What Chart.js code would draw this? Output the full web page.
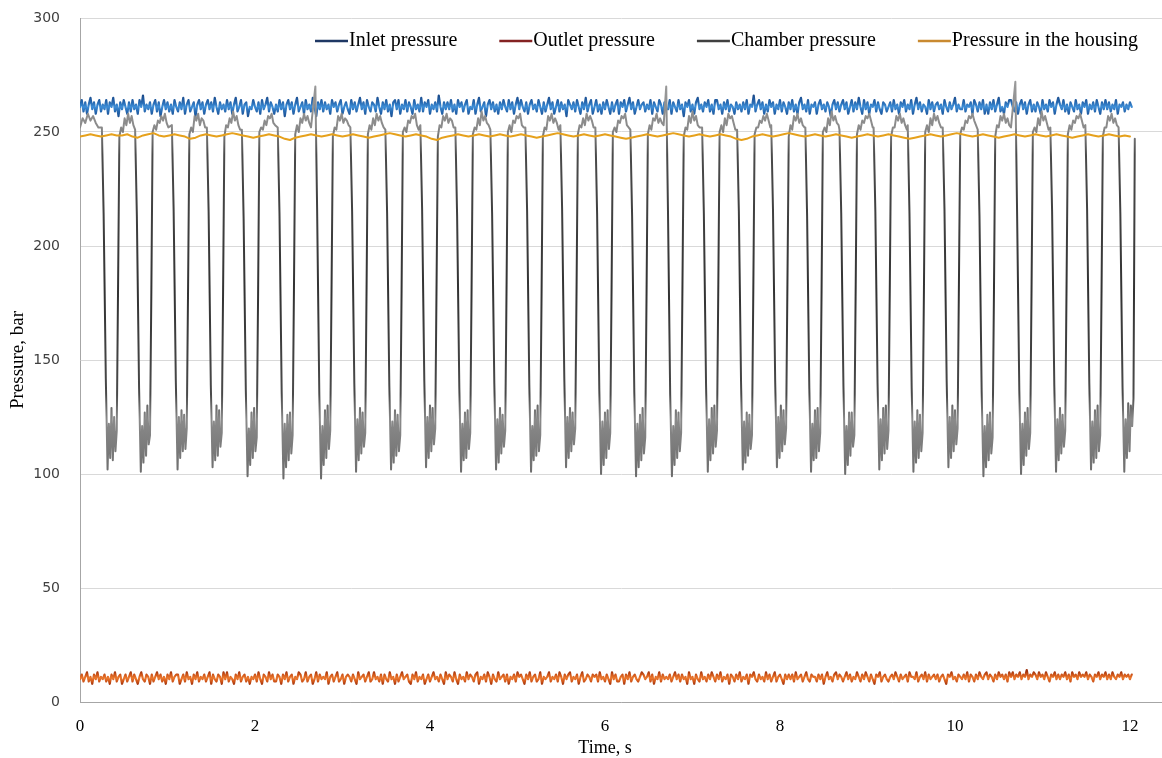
<!DOCTYPE html>
<html>
<head>
<meta charset="utf-8">
<title>Pressure, bar</title>
<script src="https://cdn.jsdelivr.net/npm/chart.js"></script>
<style>
  html, body { margin: 0; padding: 0; background: #fff; }
  canvas { display: block; }
</style>
</head>
<body>
<canvas id="pressureChart" width="1162" height="758"></canvas>
<script>
// series names and tick labels
const seriesNames = ["Inlet pressure", "Outlet pressure", "Chamber pressure", "Pressure in the housing"];
const xTicks = [0, 2, 4, 6, 8, 10, 12];
const yTicks = [0, 50, 100, 150, 200, 250, 300];

// inlet and outlet are logged every 0.02 s, housing every 0.06 s
const inletStep = 0.02;
const outletStep = 0.02;
const housingStep = 0.06;

const inletPressure = [
  261,264,259,263,258,262,265,260,263,258,262,264,259,262,
  260,264,258,263,261,265,259,262,257,263,260,264,261,258,
  263,259,264,260,262,258,264,261,266,259,262,260,263,258,
  262,264,259,263,257,261,264,260,263,259,262,258,264,261,
  259,263,260,265,258,262,264,259,261,263,257,262,264,260,
  263,258,262,264,260,263,259,265,261,258,263,260,262,259,
  264,260,263,258,262,265,259,261,264,258,262,263,257,261,
  260,264,261,259,263,258,264,260,262,265,259,263,261,258,
  262,259,264,260,263,257,262,264,260,263,258,262,265,259,
  261,263,258,264,260,262,259,265,261,257,263,260,264,259,
  263,260,262,258,264,261,263,259,262,264,258,261,263,260,
  258,264,260,263,259,262,265,260,263,258,264,261,259,263,
  262,259,265,261,258,263,260,264,259,262,257,263,264,260,
  264,258,262,260,264,259,263,261,258,264,260,262,259,265,
  259,263,261,264,258,262,260,263,259,266,261,258,263,260,
  263,260,264,259,262,258,264,261,263,259,262,264,258,261,
  260,264,258,262,265,259,261,263,257,262,264,260,263,259,
  262,258,263,260,264,261,259,264,260,263,258,262,265,260,
  264,261,259,263,258,262,264,260,262,259,264,261,258,263,
  259,262,265,260,263,258,261,264,259,263,260,262,257,264,
  262,260,263,259,264,261,258,263,260,265,259,262,264,258,
  261,264,259,262,258,263,260,264,261,258,263,259,262,264,
  258,263,261,264,259,262,265,260,263,258,261,264,260,262,
  263,259,262,260,264,258,263,261,259,264,262,258,263,260,
  260,264,258,263,261,259,264,260,262,257,263,261,264,259,
  262,258,263,265,260,262,259,263,261,264,259,262,258,264,
  264,260,262,258,263,260,264,259,262,261,258,263,260,262,
  259,263,260,264,258,262,261,266,259,262,264,260,263,258,
  262,259,264,261,263,258,262,260,264,259,263,261,258,263,
  260,264,259,262,258,263,265,260,262,259,264,258,262,261,
  263,258,262,264,260,262,259,263,261,257,262,264,260,263,
  259,262,264,260,263,258,261,264,259,263,260,265,261,258,
  264,260,263,258,262,261,264,259,263,260,258,263,262,259,
  261,263,259,264,260,262,258,263,261,264,259,262,260,264,
  258,262,265,260,263,259,262,261,258,264,260,263,259,262,
  263,260,262,258,264,261,259,263,260,262,265,259,262,260,
  260,264,259,262,261,263,258,264,262,259,263,260,264,258,
  262,258,263,260,264,259,262,265,259,261,258,263,261,264,
  264,261,259,263,258,262,264,260,263,258,262,264,259,262,
  259,263,261,258,264,260,262,259,264,261,263,258,262,265,
  262,260,264,259,262,258,263,261,259,264,260,262,258,263,
  261,264,258,262,260,263,259,264,261,258,263,260,264,260,
  263,259,262,260,264,258,262,261,263,259,262,260,263,261
];

const outletPressure = [
  10,12,9,11,13,9,11,8,12,10,13,9,11,10,
  12,9,11,8,12,10,13,9,11,12,8,10,12,9,
  11,13,9,12,10,8,11,13,10,9,12,11,8,12,
  9,11,13,10,12,9,11,8,12,10,13,9,11,12,
  12,8,10,12,9,13,10,11,8,12,10,13,9,11,
  10,12,9,11,13,8,12,10,9,12,11,8,13,10,
  13,9,11,10,8,12,10,13,9,11,12,9,11,8,
  11,10,12,9,13,10,8,12,11,9,13,10,12,9,
  9,12,11,8,12,10,13,9,11,12,8,11,10,13,
  12,9,10,13,9,11,12,8,10,13,9,12,10,11,
  10,13,8,11,12,9,11,13,9,10,12,8,11,12,
  11,9,12,10,8,13,10,11,12,9,11,13,9,10,
  13,10,11,9,12,8,12,10,9,13,10,11,8,12,
  9,11,13,10,11,12,9,8,12,10,13,9,11,10,
  12,8,10,12,9,11,13,10,11,9,12,10,8,13,
  10,12,11,9,13,10,8,12,10,11,9,13,10,12,
  11,9,12,13,8,11,10,12,9,13,11,8,12,10,
  9,13,10,11,12,9,12,8,11,10,12,9,13,11,
  12,10,8,12,10,13,9,11,12,9,10,13,8,11,
  10,11,13,9,11,10,12,9,13,11,8,12,10,12,
  13,9,11,10,12,8,11,13,9,10,12,11,9,12,
  11,12,9,13,10,11,9,12,10,8,13,10,12,9,
  9,11,12,8,12,10,13,9,11,12,10,9,11,13,
  12,10,11,13,9,12,8,11,10,13,9,12,10,11,
  10,12,9,11,13,10,12,9,12,10,11,8,13,10,
  11,8,12,10,9,13,10,11,9,12,10,13,11,9,
  12,10,13,9,11,10,12,8,12,11,9,12,10,13,
  9,11,10,12,8,12,11,13,10,9,12,10,11,9,
  13,10,12,9,11,13,9,11,12,10,8,12,10,12,
  10,12,9,13,10,11,12,9,11,13,10,9,12,11,
  11,9,12,10,12,8,11,13,10,11,9,12,13,10,
  12,11,9,11,13,10,12,9,11,10,13,11,9,12,
  10,13,11,9,12,10,8,12,11,13,9,11,12,10,
  9,11,12,10,13,11,9,12,10,11,12,9,13,11,
  11,10,13,9,11,12,10,13,9,12,10,11,12,10,
  12,9,11,12,10,8,12,11,13,10,11,9,12,11,
  10,12,10,13,9,12,11,9,12,10,13,11,10,12,
  13,10,12,11,9,12,10,13,11,12,10,12,9,13,
  11,13,10,12,11,13,10,12,11,14,10,12,11,13,
  12,10,13,11,12,10,13,11,9,12,11,13,10,12,
  10,12,11,13,10,12,9,13,11,12,10,13,11,12,
  11,13,10,12,11,9,12,11,13,10,12,11,13,10,
  12,10,13,11,10,12,11,13,10,12,11,12,10,12
];

const housingPressure = [
  248,248.5,249,248.5,248,248.5,249,248.5,248.5,249,248,247.5,248.5,
  249,249.5,248.5,248,248.5,249,248.5,248,247,247.5,248.5,249,248.5,
  248,248.5,249,249.5,249,248.5,248,247.5,248,248.5,249,248.5,248,
  247,246.5,247.5,248,248.5,249,248.5,248,248.5,249,248.5,248,248.5,
  249,248.5,248,247.5,248,248.5,249,249.5,249,248.5,248,248.5,249,
  248.5,248,247,246.5,247.5,248,248.5,249,248.5,248,248.5,249,248.5,
  248,248.5,249,248.5,248,248.5,249,248.5,248,247.5,248,248.5,249,
  249.5,249,248.5,248,248.5,249,248.5,248,248.5,249,248.5,248,247.5,
  247,247.5,248,248.5,249,248.5,248,248.5,249,249.5,249,248.5,248,
  248.5,249,248.5,248,248.5,249,248.5,248,247,246.5,247,248,248.5,
  249,248.5,248,248.5,249,249.5,249,248.5,248,248.5,249,248.5,248,
  248.5,249,248.5,248,247.5,248,248.5,249,248.5,248,248.5,249,248.5,
  248,247.5,247,247.5,248,248.5,249,248.5,248,248.5,249,249.5,249,
  248.5,248,248.5,249,248.5,248,247.5,248,248.5,249,248.5,248,248.5,
  249,248.5,248,248.5,249,248.5,248,247.5,248,248.5,249,248.5,248,248.5,249,248.5,248,248.5,248
];

// chamber: plateau before the first stroke
const chamberLeadTime = [0, 0.03, 0.06, 0.09, 0.12, 0.15, 0.18, 0.21];
const chamberLead = [252, 256, 254, 258, 255, 257, 254, 252];

// chamber: time of each drop (s) and the sample times inside one stroke (s after the drop)
const chamberStart = [0.25, 0.63, 1.05, 1.45, 1.85, 2.26, 2.69, 3.09, 3.49, 3.89,
  4.29, 4.69, 5.09, 5.49, 5.89, 6.29, 6.70, 7.11, 7.51, 7.90,
  8.29, 8.68, 9.07, 9.46, 9.86, 10.26, 10.69, 11.09, 11.49, 11.87];
const chamberPhase = [0, 0.02, 0.045, 0.065, 0.08, 0.095, 0.11, 0.125, 0.14, 0.155, 0.17,
  0.185, 0.2, 0.22, 0.24, 0.26, 0.28, 0.3, 0.32, 0.34, 0.36, 0.38];
const chamberCycles = [
  [252,214,142,102,122,107,129,106,125,110,119,182,248,252,250,256,253,258,254,257,253,251],
  [251,213,138,101,121,105,127,108,130,113,117,178,250,253,251,255,254,257,255,258,254,252],
  [253,216,141,102,125,107,128,110,126,111,120,181,249,252,250,257,255,258,253,256,255,252],
  [252,215,139,103,123,106,130,108,128,112,118,179,248,253,252,256,254,259,255,257,253,251],
  [251,212,137,99,120,104,127,107,129,110,116,177,250,252,251,255,253,257,256,258,254,253],
  [252,214,136,98,122,103,126,106,127,109,117,180,249,253,250,256,254,258,255,257,254,252],
  [270,216,135,98,121,104,128,107,130,111,119,182,248,252,251,257,255,258,254,256,255,253],
  [252,215,140,101,124,106,129,109,127,112,118,181,249,253,251,256,253,258,255,257,254,252],
  [251,214,139,102,123,105,128,108,126,110,117,179,250,252,250,255,254,257,256,258,253,251],
  [253,216,141,103,125,107,130,110,129,113,120,183,248,253,252,257,255,258,254,256,255,252],
  [252,213,138,101,122,106,127,107,128,111,118,180,249,252,251,256,253,259,255,257,254,253],
  [251,214,140,102,124,105,129,109,126,112,119,182,250,253,250,255,254,257,256,258,253,252],
  [252,215,139,101,121,106,128,108,130,110,117,178,248,252,251,257,255,258,254,256,254,251],
  [253,216,142,103,125,107,129,110,127,113,120,181,249,253,252,256,253,258,255,257,255,252],
  [252,214,137,100,123,104,127,107,128,111,118,180,250,252,250,255,254,257,256,258,253,252],
  [251,213,136,99,122,103,126,106,129,109,116,179,249,253,251,256,255,258,254,256,254,253],
  [270,215,135,99,121,104,128,107,127,110,118,181,248,252,251,257,254,259,255,257,253,252],
  [252,214,139,101,124,106,129,109,130,112,119,182,250,253,250,256,253,258,256,257,254,251],
  [251,215,140,102,123,105,127,108,126,111,117,180,249,252,252,255,254,257,255,258,255,252],
  [253,216,141,103,125,107,130,110,128,113,120,183,248,253,251,257,255,258,254,256,253,252],
  [252,213,138,101,122,106,128,107,129,110,118,179,250,252,250,256,253,259,255,257,254,253],
  [251,214,139,100,121,104,127,108,127,112,117,181,249,253,251,255,254,257,256,258,255,252],
  [252,215,140,102,124,106,129,109,130,111,119,182,248,252,252,257,255,258,254,256,253,251],
  [253,214,138,101,123,105,128,107,126,110,118,180,250,253,250,256,253,258,255,257,254,252],
  [252,216,141,103,125,107,130,110,128,113,120,183,249,252,251,255,254,257,256,258,255,253],
  [251,213,136,99,121,103,126,106,127,109,116,178,248,253,252,257,255,258,254,256,253,252],
  [272,214,137,100,122,104,127,108,129,111,118,181,250,252,250,256,253,259,255,257,254,251],
  [252,215,139,101,124,106,129,109,126,112,119,182,249,253,251,255,254,257,256,258,255,252],
  [253,216,140,102,123,105,128,107,130,110,117,180,248,252,252,257,255,258,254,256,253,252],
  [252,214,138,101,124,107,131,110,130,121,133,247]
];

// build {x, y} points
function sampled(values, step) {
  return values.map((v, i) => ({ x: +(i * step).toFixed(3), y: v }));
}

const chamberPoints = chamberLeadTime.map((t, i) => ({ x: t, y: chamberLead[i] }));
chamberStart.forEach((t0, c) => {
  chamberCycles[c].forEach((v, i) => {
    chamberPoints.push({ x: +(t0 + chamberPhase[i]).toFixed(3), y: v });
  });
});

// line shading runs top to bottom across each trace
function verticalGradient(stops) {
  return (context) => {
    const { ctx, chartArea, scales } = context.chart;
    if (!chartArea) return stops[1][1];
    const y = scales.y;
    const top = y.getPixelForValue(stops[0][0]);
    const bottom = y.getPixelForValue(stops[stops.length - 1][0]);
    const g = ctx.createLinearGradient(0, top, 0, bottom);
    stops.forEach(([v, c]) => g.addColorStop((y.getPixelForValue(v) - top) / (bottom - top), c));
    return g;
  };
}

const legendColors = ["#1f3864", "#842222", "#404040", "#c98a30"];

const insideLegend = {
  id: "insideLegend",
  afterDraw(chart) {
    const { ctx } = chart;
    ctx.save();
    ctx.font = '20px "Liberation Serif", serif';
    ctx.textBaseline = "middle";
    let x = 315;
    const y = 41;
    seriesNames.forEach((name, i) => {
      ctx.strokeStyle = legendColors[i];
      ctx.lineWidth = 2.5;
      ctx.beginPath();
      ctx.moveTo(x, y);
      ctx.lineTo(x + 33, y);
      ctx.stroke();
      ctx.fillStyle = "#000";
      ctx.fillText(name, x + 34, y);
      x += 34 + ctx.measureText(name).width + 42;
    });
    ctx.restore();
  }
};

const xAxisTitle = {
  id: "xAxisTitle",
  afterDraw(chart) {
    const { ctx, scales } = chart;
    const cx = (scales.x.getPixelForValue(xTicks[0]) + scales.x.getPixelForValue(xTicks[xTicks.length - 1])) / 2;
    ctx.save();
    ctx.font = '18px "Liberation Serif", serif';
    ctx.fillStyle = "#000";
    ctx.textAlign = "center";
    ctx.textBaseline = "middle";
    ctx.fillText("Time, s", cx, 748);
    ctx.restore();
  }
};

new Chart(document.getElementById("pressureChart").getContext("2d"), {
  type: "line",
  data: {
    datasets: [
      {
        label: seriesNames[0],
        data: sampled(inletPressure, inletStep),
        borderColor: verticalGradient([[266, "#1a4a8a"], [263, "#2668b0"], [261, "#3f8fd8"], [259, "#2668b0"], [256, "#1a4a8a"]]),
        borderWidth: 2.2,
        order: 3
      },
      {
        label: seriesNames[1],
        data: sampled(outletPressure, outletStep),
        borderColor: verticalGradient([[13.5, "#9c2f0c"], [12, "#cf5518"], [10.5, "#ec7a30"], [9, "#cf5518"], [7.5, "#9c2f0c"]]),
        borderWidth: 2.2,
        order: 2
      },
      {
        label: seriesNames[2],
        data: chamberPoints,
        borderColor: verticalGradient([[272, "#9a9a9a"], [252, "#8a8a8a"], [240, "#4a4a4a"], [180, "#333333"], [135, "#4a4a4a"], [124, "#8a8a8a"], [98, "#6a6a6a"]]),
        borderWidth: 2,
        order: 1
      },
      {
        label: seriesNames[3],
        data: sampled(housingPressure, housingStep),
        borderColor: "#e6a11c",
        borderWidth: 2,
        order: 0
      }
    ]
  },
  options: {
    responsive: false,
    animation: false,
    layout: { padding: { top: 18, right: 0, bottom: 0, left: 0 } },
    elements: {
      point: { radius: 0 },
      line: { tension: 0, borderJoinStyle: "round", borderCapStyle: "round" }
    },
    plugins: {
      legend: { display: false },
      tooltip: { enabled: false }
    },
    scales: {
      x: {
        type: "linear",
        min: 0,
        max: 12.366,
        afterBuildTicks: (scale) => { scale.ticks = xTicks.map(v => ({ value: v })); },
        afterFit: (scale) => { scale.height = 56; },
        grid: { display: false, drawTicks: false },
        border: { display: true, color: "#a6a6a6", width: 1 },
        ticks: {
          padding: 14,
          color: "#000",
          maxRotation: 0,
          font: { family: '"Liberation Serif", serif', size: 17 }
        }
      },
      y: {
        min: 0,
        max: 300,
        afterBuildTicks: (scale) => { scale.ticks = yTicks.map(v => ({ value: v })); },
        afterFit: (scale) => {
          scale.width = 80;
          scale.paddingTop = 0;
          scale.paddingBottom = 0;
        },
        grid: { color: "#d9d9d9", lineWidth: 1, drawTicks: false },
        border: { display: true, color: "#a6a6a6", width: 1 },
        ticks: {
          padding: 20,
          color: "#404040",
          font: { family: '"DejaVu Sans", sans-serif', size: 14 }
        },
        title: {
          display: true,
          text: "Pressure, bar",
          color: "#000",
          padding: { top: 7, bottom: 0 },
          font: { family: '"Liberation Serif", serif', size: 19 }
        }
      }
    }
  },
  plugins: [insideLegend, xAxisTitle]
});
</script>
</body>
</html>
